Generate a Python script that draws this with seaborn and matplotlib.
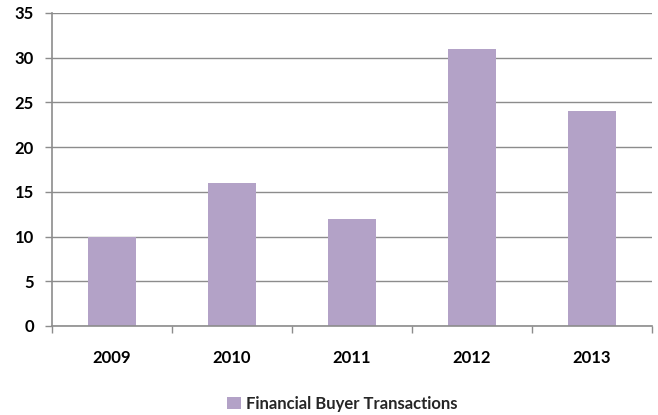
import matplotlib

matplotlib.use("Agg")
import matplotlib.pyplot as plt
import numpy as np
import seaborn as sns
from matplotlib.patches import Patch

years = ["2009", "2010", "2011", "2012", "2013"]
transactions = [10, 16, 12, 31, 24]
series_label = "Financial Buyer Transactions"

BAR_COLOR = "#B3A2C7"
GRID_COLOR = "#8C8C8C"

sns.set_theme(style="white")
plt.rcParams["font.family"] = ["Lato", "DejaVu Sans"]
plt.rcParams["font.weight"] = "bold"
plt.rcParams["xtick.color"] = "black"
plt.rcParams["ytick.color"] = "black"

fig = plt.figure(figsize=(6.58, 4.15), dpi=100)
ax = fig.add_axes([0.079, 0.2145, 0.912, 0.7545])

sns.barplot(x=years, y=transactions, color=BAR_COLOR, width=0.4,
            saturation=1, linewidth=0, ax=ax)

ax.set_ylim(0, 35)
ax.set_xlim(-0.5, len(years) - 0.5)
ax.set_yticks(np.arange(0, 36, 5))
ax.yaxis.grid(True, color=GRID_COLOR, linewidth=1)
ax.set_axisbelow(True)

for side in ["top", "right"]:
    ax.spines[side].set_visible(False)
for side in ["left", "bottom"]:
    ax.spines[side].set_color(GRID_COLOR)
    ax.spines[side].set_linewidth(1.2)

# category boundary ticks on the x axis
ax.set_xticks(np.arange(-0.5, len(years), 1), minor=True)
ax.tick_params(axis="x", which="minor", bottom=True, length=5, color=GRID_COLOR, width=1)
ax.tick_params(axis="x", which="major", length=0, pad=17, labelsize=12, labelcolor="black")
ax.tick_params(axis="y", left=True, direction="out", length=5, color=GRID_COLOR,
               width=1, pad=8, labelsize=12, labelcolor="black")
ax.set_xlabel("")
ax.set_ylabel("")

handle = Patch(facecolor=BAR_COLOR, edgecolor="none")
fig.legend(
    [handle],
    [series_label],
    loc="center",
    bbox_to_anchor=(0.52, 0.027),
    frameon=False,
    prop={"weight": "bold", "size": 12},
    handlelength=0.8,
    handleheight=0.8,
    handletextpad=0.3,
)

fig.savefig("out.png", dpi=100)
plt.close(fig)
